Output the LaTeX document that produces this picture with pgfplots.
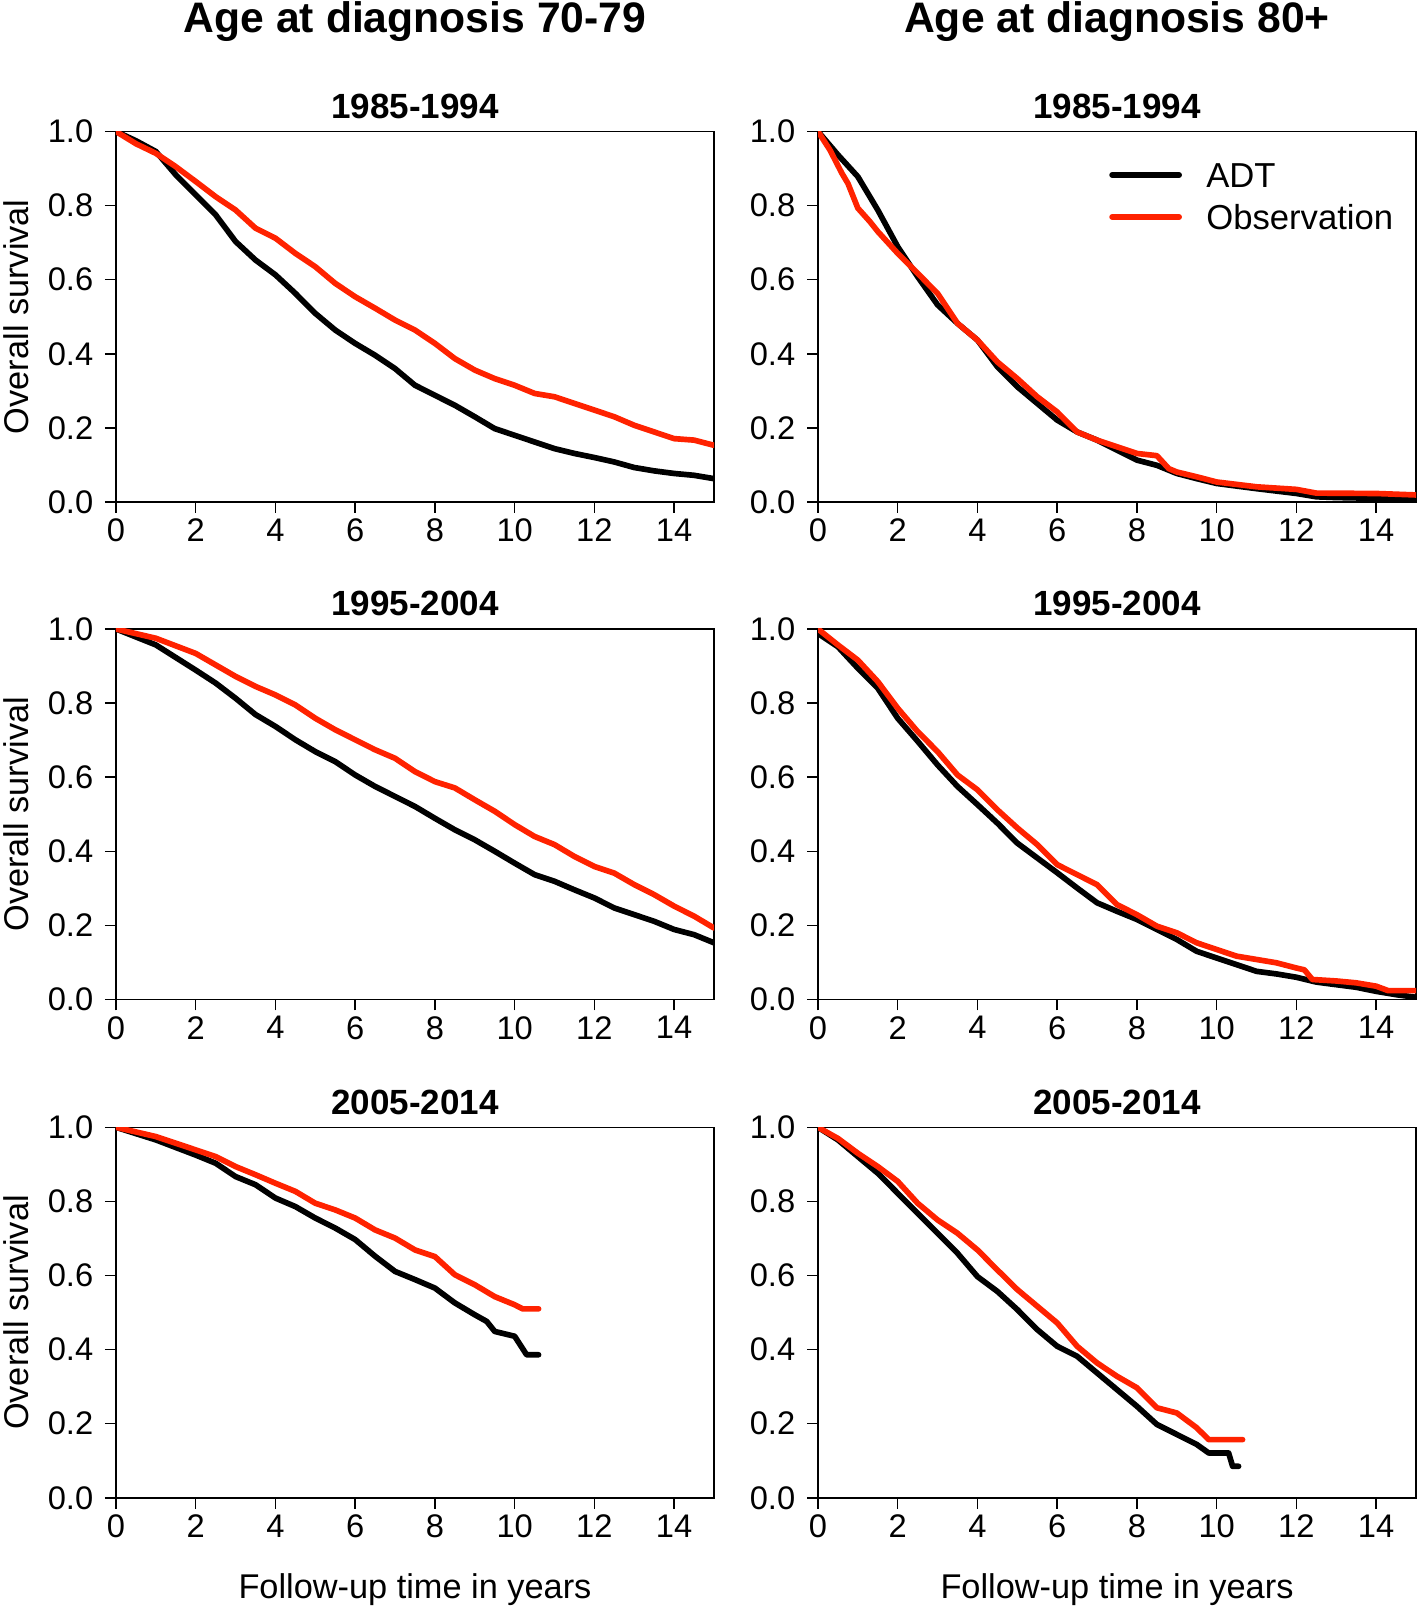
\documentclass[border=0pt]{standalone}
\usepackage{pgfplots}
\pgfplotsset{compat=1.18}
\usepackage{fontspec}
\setmainfont{Liberation Sans}
\definecolor{obsred}{RGB}{255,34,0}
\pgfplotsset{
  surv/.style={
    scale only axis, width=179.4pt, height=111.15pt,
    xmin=0, xmax=15, ymin=0, ymax=1,
    xtick={0,2,4,6,8,10,12,14}, ytick={0,0.2,0.4,0.6,0.8,1},
    tick align=outside, xtick pos=bottom, ytick pos=left,
    major tick length=3.3pt,
    axis line style={line width=0.45pt},
    every tick/.style={line width=0.45pt, black},
    /pgf/number format/assume math mode=true,
    yticklabel style={/pgf/number format/.cd, fixed, fixed zerofill, precision=1},
    xticklabel style={yshift=1.8pt},
    ticklabel style={font=\fontsize{9.8}{11}\selectfont},
    every axis title/.style={font=\fontsize{10.5}{12}\selectfont\bfseries, at={(axis description cs:0.5,1)}, anchor=base, yshift=3.96pt},
    every axis x label/.style={at={(axis description cs:0.5,-0.273)}, anchor=base, font=\fontsize{10.3}{12}\selectfont},
    every axis y label/.style={at={(axis description cs:-0.1455,0.5)}, rotate=90, anchor=base, font=\fontsize{10.3}{12}\selectfont},
  },
  adt/.style={black, line width=1.7pt, line cap=round, line join=round},
  obs/.style={obsred, line width=1.7pt, line cap=round, line join=round},
}
\begin{document}
\begin{tikzpicture}
\path[use as bounding box] (0,0) rectangle (425.4pt,482.7pt);

% Row 1, left
\begin{axis}[surv, at={(34.8pt,332.1pt)}, anchor=south west, title={1985-1994}, ylabel={Overall survival}]
\addplot[adt] coordinates {(0,1)(0.5,0.975)(1,0.946)(1.5,0.883)(2,0.829)(2.5,0.775)(3,0.703)(3.5,0.653)(4,0.613)(4.5,0.563)(5,0.509)(5.5,0.464)(6,0.428)(6.5,0.396)(7,0.360)(7.5,0.315)(8,0.288)(8.5,0.261)(9,0.230)(9.5,0.198)(10,0.180)(10.5,0.162)(11,0.144)(11.5,0.131)(12,0.120)(12.5,0.108)(13,0.093)(13.5,0.084)(14,0.077)(14.5,0.072)(15,0.063)};
\addplot[obs] coordinates {(0,1)(0.5,0.967)(1,0.941)(1.5,0.905)(2,0.865)(2.5,0.824)(3,0.788)(3.5,0.739)(4,0.712)(4.5,0.671)(5,0.635)(5.5,0.590)(6,0.554)(6.5,0.523)(7,0.491)(7.5,0.464)(8,0.428)(8.5,0.387)(9,0.356)(9.5,0.333)(10,0.315)(10.5,0.293)(11,0.284)(11.5,0.266)(12,0.248)(12.5,0.230)(13,0.207)(13.5,0.189)(14,0.171)(14.5,0.167)(15,0.153)};
\end{axis}

% Row 1, right
\begin{axis}[surv, at={(245.4pt,332.1pt)}, anchor=south west, title={1985-1994},
  legend cell align=left,
  legend image code/.code={\draw[#1] (0pt,0pt) -- (20.1pt,0pt);},
  legend style={draw=none, fill=none, inner sep=0pt, row sep=5pt, column sep=7.3pt,
    nodes={inner sep=0pt, text height=7.6pt, text depth=0pt},
    font=\fontsize{10.4}{12}\selectfont,
    at={(axis description cs:0.486,0.9186)}, anchor=north west}]
\addplot[adt] coordinates {(0,1)(0.5,0.937)(1,0.878)(1.5,0.788)(2,0.689)(2.5,0.608)(3,0.532)(3.5,0.482)(4,0.437)(4.5,0.365)(5,0.311)(5.5,0.266)(6,0.221)(6.5,0.189)(7,0.167)(7.5,0.140)(8,0.113)(8.5,0.099)(9,0.077)(9.5,0.063)(10,0.050)(11,0.036)(12,0.023)(12.5,0.014)(13,0.012)(14,0.010)(15,0.005)};
\addlegendentry{ADT}
\addplot[obs] coordinates {(0,1)(0.3,0.95)(0.6,0.887)(0.75,0.86)(1,0.793)(1.3,0.757)(1.5,0.73)(2,0.671)(2.5,0.617)(3,0.563)(3.5,0.482)(4,0.437)(4.5,0.378)(5,0.333)(5.5,0.284)(6,0.243)(6.5,0.189)(7,0.167)(7.5,0.149)(8,0.131)(8.5,0.125)(8.8,0.09)(9,0.081)(9.5,0.068)(10,0.054)(11,0.041)(12,0.034)(12.5,0.024)(14,0.023)(15,0.019)};
\addlegendentry{Observation}
\end{axis}

% Row 2, left
\begin{axis}[surv, at={(34.8pt,182.85pt)}, anchor=south west, title={1995-2004}, ylabel={Overall survival}]
\addplot[adt] coordinates {(0,1)(1,0.957)(2,0.889)(2.5,0.854)(3,0.813)(3.5,0.769)(4,0.737)(4.5,0.701)(5,0.669)(5.5,0.642)(6,0.606)(6.5,0.575)(7,0.548)(7.5,0.521)(8,0.489)(8.5,0.458)(9,0.431)(9.5,0.400)(10,0.368)(10.5,0.337)(11,0.319)(11.5,0.296)(12,0.274)(12.5,0.247)(13,0.229)(13.5,0.211)(14,0.189)(14.5,0.175)(15,0.153)};
\addplot[obs] coordinates {(0,1)(1,0.975)(2,0.934)(2.5,0.903)(3,0.872)(3.5,0.845)(4,0.822)(4.5,0.795)(5,0.759)(5.5,0.728)(6,0.701)(6.5,0.674)(7,0.651)(7.5,0.615)(8,0.588)(8.5,0.571)(9,0.539)(9.5,0.508)(10,0.472)(10.5,0.440)(11,0.418)(11.5,0.386)(12,0.359)(12.5,0.341)(13,0.310)(13.5,0.283)(14,0.252)(14.5,0.225)(15,0.193)};
\end{axis}

% Row 2, right
\begin{axis}[surv, at={(245.4pt,182.85pt)}, anchor=south west, title={1995-2004}]
\addplot[adt] coordinates {(0,0.988)(0.5,0.952)(1,0.894)(1.5,0.840)(2,0.759)(2.5,0.697)(3,0.633)(3.5,0.575)(4,0.526)(4.5,0.476)(5,0.422)(5.5,0.382)(6,0.342)(6.5,0.301)(7,0.261)(7.5,0.238)(8,0.216)(8.5,0.189)(9,0.162)(9.5,0.130)(10,0.112)(10.5,0.094)(11,0.076)(11.5,0.069)(12,0.060)(12.5,0.047)(13,0.040)(13.5,0.033)(14,0.022)(14.5,0.013)(15,0.006)};
\addplot[obs] coordinates {(0,1)(0.5,0.957)(1,0.916)(1.5,0.858)(2,0.786)(2.5,0.723)(3,0.669)(3.5,0.606)(4,0.566)(4.5,0.512)(5,0.463)(5.5,0.418)(6,0.364)(6.5,0.337)(7,0.310)(7.5,0.256)(8,0.229)(8.5,0.198)(9,0.180)(9.5,0.153)(10,0.135)(10.5,0.117)(11,0.108)(11.5,0.099)(12,0.085)(12.2,0.080)(12.4,0.054)(13,0.050)(13.5,0.045)(14,0.036)(14.3,0.024)(15,0.024)};
\end{axis}

% Row 3, left
\begin{axis}[surv, at={(34.8pt,33.36pt)}, anchor=south west, title={2005-2014}, ylabel={Overall survival}, xlabel={Follow-up time in years}]
\addplot[adt] coordinates {(0,1)(1,0.966)(2,0.925)(2.5,0.903)(3,0.867)(3.5,0.845)(4,0.809)(4.5,0.786)(5,0.755)(5.5,0.728)(6,0.697)(6.5,0.652)(7,0.611)(7.5,0.589)(8,0.566)(8.5,0.526)(9,0.494)(9.3,0.476)(9.5,0.449)(10,0.436)(10.3,0.386)(10.6,0.386)};
\addplot[obs] coordinates {(0,1)(1,0.975)(2,0.939)(2.5,0.921)(3,0.894)(3.5,0.872)(4,0.849)(4.5,0.827)(5,0.795)(5.5,0.777)(6,0.755)(6.5,0.723)(7,0.701)(7.5,0.669)(8,0.651)(8.5,0.602)(9,0.575)(9.5,0.543)(10,0.521)(10.2,0.510)(10.6,0.510)};
\end{axis}

% Row 3, right
\begin{axis}[surv, at={(245.4pt,33.36pt)}, anchor=south west, title={2005-2014}, xlabel={Follow-up time in years}]
\addplot[adt] coordinates {(0,1)(0.5,0.966)(1,0.921)(1.5,0.876)(2,0.822)(2.5,0.768)(3,0.714)(3.5,0.660)(4,0.597)(4.5,0.557)(5,0.508)(5.5,0.454)(6,0.409)(6.5,0.382)(7,0.337)(7.5,0.292)(8,0.247)(8.5,0.198)(9,0.171)(9.5,0.144)(9.8,0.121)(10.3,0.121)(10.4,0.085)(10.55,0.085)};
\addplot[obs] coordinates {(0,1)(0.5,0.970)(1,0.930)(1.5,0.894)(2,0.854)(2.5,0.795)(3,0.750)(3.5,0.714)(4,0.669)(4.5,0.615)(5,0.562)(5.5,0.517)(6,0.472)(6.5,0.409)(7,0.364)(7.5,0.328)(8,0.297)(8.5,0.243)(9,0.229)(9.5,0.189)(9.8,0.157)(10.65,0.157)};
\end{axis}

\node[anchor=base, font=\fontsize{12.8}{14}\selectfont\bfseries] at (124.5pt,472.8pt) {Age at diagnosis 70-79};
\node[anchor=base, font=\fontsize{12.8}{14}\selectfont\bfseries] at (335.1pt,472.8pt) {Age at diagnosis 80+};
\end{tikzpicture}
\end{document}
